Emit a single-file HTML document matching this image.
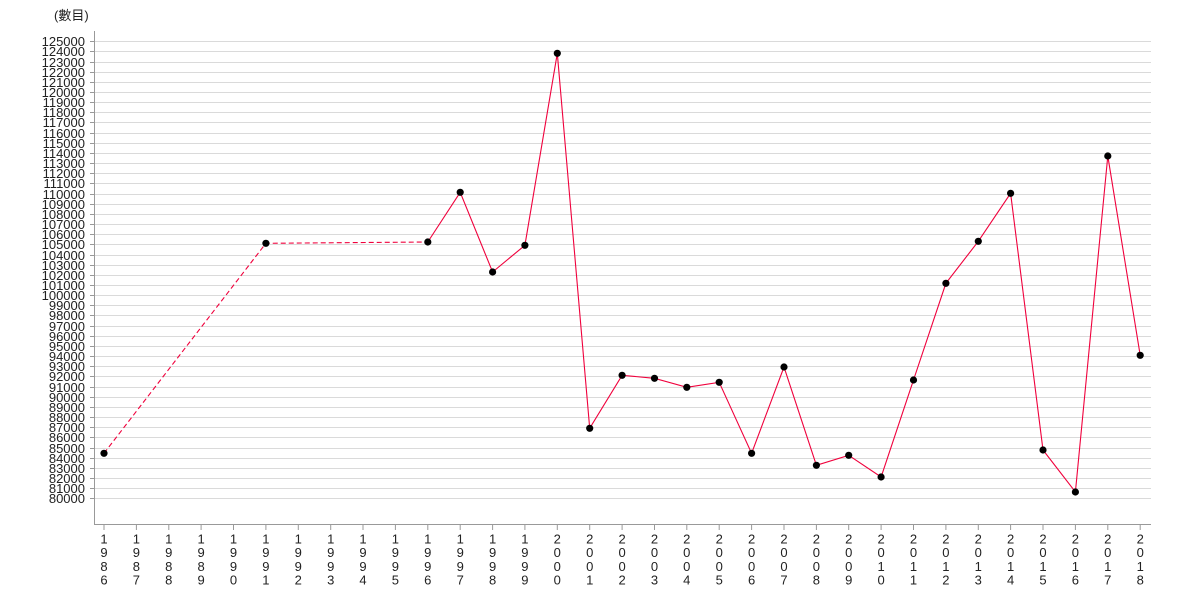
<!DOCTYPE html>
<html><head><meta charset="utf-8"><style>
html,body{margin:0;padding:0;background:#fff;}
svg{display:block;}
text{font-family:"Liberation Sans","Noto Sans CJK TC",sans-serif;font-size:13px;fill:#222;}
</style></head><body>
<svg width="1180" height="600" viewBox="0 0 1180 600" xmlns="http://www.w3.org/2000/svg">
<text x="54" y="20" style="font-size:13px">(數目)</text>
<g stroke="#dadada" stroke-width="1">
<line x1="95" x2="1151" y1="498.5" y2="498.5"/><line x1="95" x2="1151" y1="488.5" y2="488.5"/><line x1="95" x2="1151" y1="478.5" y2="478.5"/><line x1="95" x2="1151" y1="468.5" y2="468.5"/><line x1="95" x2="1151" y1="458.5" y2="458.5"/><line x1="95" x2="1151" y1="448.5" y2="448.5"/><line x1="95" x2="1151" y1="437.5" y2="437.5"/><line x1="95" x2="1151" y1="427.5" y2="427.5"/><line x1="95" x2="1151" y1="417.5" y2="417.5"/><line x1="95" x2="1151" y1="407.5" y2="407.5"/><line x1="95" x2="1151" y1="397.5" y2="397.5"/><line x1="95" x2="1151" y1="387.5" y2="387.5"/><line x1="95" x2="1151" y1="376.5" y2="376.5"/><line x1="95" x2="1151" y1="366.5" y2="366.5"/><line x1="95" x2="1151" y1="356.5" y2="356.5"/><line x1="95" x2="1151" y1="346.5" y2="346.5"/><line x1="95" x2="1151" y1="336.5" y2="336.5"/><line x1="95" x2="1151" y1="326.5" y2="326.5"/><line x1="95" x2="1151" y1="315.5" y2="315.5"/><line x1="95" x2="1151" y1="305.5" y2="305.5"/><line x1="95" x2="1151" y1="295.5" y2="295.5"/><line x1="95" x2="1151" y1="285.5" y2="285.5"/><line x1="95" x2="1151" y1="275.5" y2="275.5"/><line x1="95" x2="1151" y1="265.5" y2="265.5"/><line x1="95" x2="1151" y1="255.5" y2="255.5"/><line x1="95" x2="1151" y1="244.5" y2="244.5"/><line x1="95" x2="1151" y1="234.5" y2="234.5"/><line x1="95" x2="1151" y1="224.5" y2="224.5"/><line x1="95" x2="1151" y1="214.5" y2="214.5"/><line x1="95" x2="1151" y1="204.5" y2="204.5"/><line x1="95" x2="1151" y1="194.5" y2="194.5"/><line x1="95" x2="1151" y1="183.5" y2="183.5"/><line x1="95" x2="1151" y1="173.5" y2="173.5"/><line x1="95" x2="1151" y1="163.5" y2="163.5"/><line x1="95" x2="1151" y1="153.5" y2="153.5"/><line x1="95" x2="1151" y1="143.5" y2="143.5"/><line x1="95" x2="1151" y1="133.5" y2="133.5"/><line x1="95" x2="1151" y1="122.5" y2="122.5"/><line x1="95" x2="1151" y1="112.5" y2="112.5"/><line x1="95" x2="1151" y1="102.5" y2="102.5"/><line x1="95" x2="1151" y1="92.5" y2="92.5"/><line x1="95" x2="1151" y1="82.5" y2="82.5"/><line x1="95" x2="1151" y1="72.5" y2="72.5"/><line x1="95" x2="1151" y1="62.5" y2="62.5"/><line x1="95" x2="1151" y1="51.5" y2="51.5"/><line x1="95" x2="1151" y1="41.5" y2="41.5"/>
</g>
<g stroke="#999" stroke-width="1">
<line x1="94.5" y1="31" x2="94.5" y2="524.5"/>
<line x1="94" y1="524.5" x2="1151" y2="524.5"/>
<line x1="90" x2="94" y1="498.5" y2="498.5"/><line x1="90" x2="94" y1="488.5" y2="488.5"/><line x1="90" x2="94" y1="478.5" y2="478.5"/><line x1="90" x2="94" y1="468.5" y2="468.5"/><line x1="90" x2="94" y1="458.5" y2="458.5"/><line x1="90" x2="94" y1="448.5" y2="448.5"/><line x1="90" x2="94" y1="437.5" y2="437.5"/><line x1="90" x2="94" y1="427.5" y2="427.5"/><line x1="90" x2="94" y1="417.5" y2="417.5"/><line x1="90" x2="94" y1="407.5" y2="407.5"/><line x1="90" x2="94" y1="397.5" y2="397.5"/><line x1="90" x2="94" y1="387.5" y2="387.5"/><line x1="90" x2="94" y1="376.5" y2="376.5"/><line x1="90" x2="94" y1="366.5" y2="366.5"/><line x1="90" x2="94" y1="356.5" y2="356.5"/><line x1="90" x2="94" y1="346.5" y2="346.5"/><line x1="90" x2="94" y1="336.5" y2="336.5"/><line x1="90" x2="94" y1="326.5" y2="326.5"/><line x1="90" x2="94" y1="315.5" y2="315.5"/><line x1="90" x2="94" y1="305.5" y2="305.5"/><line x1="90" x2="94" y1="295.5" y2="295.5"/><line x1="90" x2="94" y1="285.5" y2="285.5"/><line x1="90" x2="94" y1="275.5" y2="275.5"/><line x1="90" x2="94" y1="265.5" y2="265.5"/><line x1="90" x2="94" y1="255.5" y2="255.5"/><line x1="90" x2="94" y1="244.5" y2="244.5"/><line x1="90" x2="94" y1="234.5" y2="234.5"/><line x1="90" x2="94" y1="224.5" y2="224.5"/><line x1="90" x2="94" y1="214.5" y2="214.5"/><line x1="90" x2="94" y1="204.5" y2="204.5"/><line x1="90" x2="94" y1="194.5" y2="194.5"/><line x1="90" x2="94" y1="183.5" y2="183.5"/><line x1="90" x2="94" y1="173.5" y2="173.5"/><line x1="90" x2="94" y1="163.5" y2="163.5"/><line x1="90" x2="94" y1="153.5" y2="153.5"/><line x1="90" x2="94" y1="143.5" y2="143.5"/><line x1="90" x2="94" y1="133.5" y2="133.5"/><line x1="90" x2="94" y1="122.5" y2="122.5"/><line x1="90" x2="94" y1="112.5" y2="112.5"/><line x1="90" x2="94" y1="102.5" y2="102.5"/><line x1="90" x2="94" y1="92.5" y2="92.5"/><line x1="90" x2="94" y1="82.5" y2="82.5"/><line x1="90" x2="94" y1="72.5" y2="72.5"/><line x1="90" x2="94" y1="62.5" y2="62.5"/><line x1="90" x2="94" y1="51.5" y2="51.5"/><line x1="90" x2="94" y1="41.5" y2="41.5"/>
<line x1="104" x2="104" y1="525" y2="530"/><line x1="136.4" x2="136.4" y1="525" y2="530"/><line x1="168.8" x2="168.8" y1="525" y2="530"/><line x1="201.1" x2="201.1" y1="525" y2="530"/><line x1="233.5" x2="233.5" y1="525" y2="530"/><line x1="265.9" x2="265.9" y1="525" y2="530"/><line x1="298.3" x2="298.3" y1="525" y2="530"/><line x1="330.7" x2="330.7" y1="525" y2="530"/><line x1="363" x2="363" y1="525" y2="530"/><line x1="395.4" x2="395.4" y1="525" y2="530"/><line x1="427.8" x2="427.8" y1="525" y2="530"/><line x1="460.2" x2="460.2" y1="525" y2="530"/><line x1="492.6" x2="492.6" y1="525" y2="530"/><line x1="524.9" x2="524.9" y1="525" y2="530"/><line x1="557.3" x2="557.3" y1="525" y2="530"/><line x1="589.7" x2="589.7" y1="525" y2="530"/><line x1="622.1" x2="622.1" y1="525" y2="530"/><line x1="654.5" x2="654.5" y1="525" y2="530"/><line x1="686.8" x2="686.8" y1="525" y2="530"/><line x1="719.2" x2="719.2" y1="525" y2="530"/><line x1="751.6" x2="751.6" y1="525" y2="530"/><line x1="784" x2="784" y1="525" y2="530"/><line x1="816.4" x2="816.4" y1="525" y2="530"/><line x1="848.7" x2="848.7" y1="525" y2="530"/><line x1="881.1" x2="881.1" y1="525" y2="530"/><line x1="913.5" x2="913.5" y1="525" y2="530"/><line x1="945.9" x2="945.9" y1="525" y2="530"/><line x1="978.3" x2="978.3" y1="525" y2="530"/><line x1="1010.6" x2="1010.6" y1="525" y2="530"/><line x1="1043" x2="1043" y1="525" y2="530"/><line x1="1075.4" x2="1075.4" y1="525" y2="530"/><line x1="1107.8" x2="1107.8" y1="525" y2="530"/><line x1="1140.2" x2="1140.2" y1="525" y2="530"/>
</g>
<g text-anchor="end">
<text x="85" y="503">80000</text><text x="85" y="493">81000</text><text x="85" y="483">82000</text><text x="85" y="473">83000</text><text x="85" y="463">84000</text><text x="85" y="453">85000</text><text x="85" y="442">86000</text><text x="85" y="432">87000</text><text x="85" y="422">88000</text><text x="85" y="412">89000</text><text x="85" y="402">90000</text><text x="85" y="392">91000</text><text x="85" y="381">92000</text><text x="85" y="371">93000</text><text x="85" y="361">94000</text><text x="85" y="351">95000</text><text x="85" y="341">96000</text><text x="85" y="331">97000</text><text x="85" y="320">98000</text><text x="85" y="310">99000</text><text x="85" y="300">100000</text><text x="85" y="290">101000</text><text x="85" y="280">102000</text><text x="85" y="270">103000</text><text x="85" y="260">104000</text><text x="85" y="249">105000</text><text x="85" y="239">106000</text><text x="85" y="229">107000</text><text x="85" y="219">108000</text><text x="85" y="209">109000</text><text x="85" y="199">110000</text><text x="85" y="188">111000</text><text x="85" y="178">112000</text><text x="85" y="168">113000</text><text x="85" y="158">114000</text><text x="85" y="148">115000</text><text x="85" y="138">116000</text><text x="85" y="127">117000</text><text x="85" y="117">118000</text><text x="85" y="107">119000</text><text x="85" y="97">120000</text><text x="85" y="87">121000</text><text x="85" y="77">122000</text><text x="85" y="67">123000</text><text x="85" y="56">124000</text><text x="85" y="46">125000</text>
</g>
<g text-anchor="middle">
<text x="104"><tspan x="104" y="543.5">1</tspan><tspan x="104" y="557.2">9</tspan><tspan x="104" y="570.9">8</tspan><tspan x="104" y="584.6">6</tspan></text>
<text><tspan x="136.4" y="543.5">1</tspan><tspan x="136.4" y="557.2">9</tspan><tspan x="136.4" y="570.9">8</tspan><tspan x="136.4" y="584.6">7</tspan></text>
<text><tspan x="168.8" y="543.5">1</tspan><tspan x="168.8" y="557.2">9</tspan><tspan x="168.8" y="570.9">8</tspan><tspan x="168.8" y="584.6">8</tspan></text>
<text><tspan x="201.1" y="543.5">1</tspan><tspan x="201.1" y="557.2">9</tspan><tspan x="201.1" y="570.9">8</tspan><tspan x="201.1" y="584.6">9</tspan></text>
<text><tspan x="233.5" y="543.5">1</tspan><tspan x="233.5" y="557.2">9</tspan><tspan x="233.5" y="570.9">9</tspan><tspan x="233.5" y="584.6">0</tspan></text>
<text><tspan x="265.9" y="543.5">1</tspan><tspan x="265.9" y="557.2">9</tspan><tspan x="265.9" y="570.9">9</tspan><tspan x="265.9" y="584.6">1</tspan></text>
<text><tspan x="298.3" y="543.5">1</tspan><tspan x="298.3" y="557.2">9</tspan><tspan x="298.3" y="570.9">9</tspan><tspan x="298.3" y="584.6">2</tspan></text>
<text><tspan x="330.7" y="543.5">1</tspan><tspan x="330.7" y="557.2">9</tspan><tspan x="330.7" y="570.9">9</tspan><tspan x="330.7" y="584.6">3</tspan></text>
<text><tspan x="363" y="543.5">1</tspan><tspan x="363" y="557.2">9</tspan><tspan x="363" y="570.9">9</tspan><tspan x="363" y="584.6">4</tspan></text>
<text><tspan x="395.4" y="543.5">1</tspan><tspan x="395.4" y="557.2">9</tspan><tspan x="395.4" y="570.9">9</tspan><tspan x="395.4" y="584.6">5</tspan></text>
<text><tspan x="427.8" y="543.5">1</tspan><tspan x="427.8" y="557.2">9</tspan><tspan x="427.8" y="570.9">9</tspan><tspan x="427.8" y="584.6">6</tspan></text>
<text><tspan x="460.2" y="543.5">1</tspan><tspan x="460.2" y="557.2">9</tspan><tspan x="460.2" y="570.9">9</tspan><tspan x="460.2" y="584.6">7</tspan></text>
<text><tspan x="492.6" y="543.5">1</tspan><tspan x="492.6" y="557.2">9</tspan><tspan x="492.6" y="570.9">9</tspan><tspan x="492.6" y="584.6">8</tspan></text>
<text><tspan x="524.9" y="543.5">1</tspan><tspan x="524.9" y="557.2">9</tspan><tspan x="524.9" y="570.9">9</tspan><tspan x="524.9" y="584.6">9</tspan></text>
<text><tspan x="557.3" y="543.5">2</tspan><tspan x="557.3" y="557.2">0</tspan><tspan x="557.3" y="570.9">0</tspan><tspan x="557.3" y="584.6">0</tspan></text>
<text><tspan x="589.7" y="543.5">2</tspan><tspan x="589.7" y="557.2">0</tspan><tspan x="589.7" y="570.9">0</tspan><tspan x="589.7" y="584.6">1</tspan></text>
<text><tspan x="622.1" y="543.5">2</tspan><tspan x="622.1" y="557.2">0</tspan><tspan x="622.1" y="570.9">0</tspan><tspan x="622.1" y="584.6">2</tspan></text>
<text><tspan x="654.5" y="543.5">2</tspan><tspan x="654.5" y="557.2">0</tspan><tspan x="654.5" y="570.9">0</tspan><tspan x="654.5" y="584.6">3</tspan></text>
<text><tspan x="686.8" y="543.5">2</tspan><tspan x="686.8" y="557.2">0</tspan><tspan x="686.8" y="570.9">0</tspan><tspan x="686.8" y="584.6">4</tspan></text>
<text><tspan x="719.2" y="543.5">2</tspan><tspan x="719.2" y="557.2">0</tspan><tspan x="719.2" y="570.9">0</tspan><tspan x="719.2" y="584.6">5</tspan></text>
<text><tspan x="751.6" y="543.5">2</tspan><tspan x="751.6" y="557.2">0</tspan><tspan x="751.6" y="570.9">0</tspan><tspan x="751.6" y="584.6">6</tspan></text>
<text><tspan x="784" y="543.5">2</tspan><tspan x="784" y="557.2">0</tspan><tspan x="784" y="570.9">0</tspan><tspan x="784" y="584.6">7</tspan></text>
<text><tspan x="816.4" y="543.5">2</tspan><tspan x="816.4" y="557.2">0</tspan><tspan x="816.4" y="570.9">0</tspan><tspan x="816.4" y="584.6">8</tspan></text>
<text><tspan x="848.7" y="543.5">2</tspan><tspan x="848.7" y="557.2">0</tspan><tspan x="848.7" y="570.9">0</tspan><tspan x="848.7" y="584.6">9</tspan></text>
<text><tspan x="881.1" y="543.5">2</tspan><tspan x="881.1" y="557.2">0</tspan><tspan x="881.1" y="570.9">1</tspan><tspan x="881.1" y="584.6">0</tspan></text>
<text><tspan x="913.5" y="543.5">2</tspan><tspan x="913.5" y="557.2">0</tspan><tspan x="913.5" y="570.9">1</tspan><tspan x="913.5" y="584.6">1</tspan></text>
<text><tspan x="945.9" y="543.5">2</tspan><tspan x="945.9" y="557.2">0</tspan><tspan x="945.9" y="570.9">1</tspan><tspan x="945.9" y="584.6">2</tspan></text>
<text><tspan x="978.3" y="543.5">2</tspan><tspan x="978.3" y="557.2">0</tspan><tspan x="978.3" y="570.9">1</tspan><tspan x="978.3" y="584.6">3</tspan></text>
<text><tspan x="1010.6" y="543.5">2</tspan><tspan x="1010.6" y="557.2">0</tspan><tspan x="1010.6" y="570.9">1</tspan><tspan x="1010.6" y="584.6">4</tspan></text>
<text><tspan x="1043" y="543.5">2</tspan><tspan x="1043" y="557.2">0</tspan><tspan x="1043" y="570.9">1</tspan><tspan x="1043" y="584.6">5</tspan></text>
<text><tspan x="1075.4" y="543.5">2</tspan><tspan x="1075.4" y="557.2">0</tspan><tspan x="1075.4" y="570.9">1</tspan><tspan x="1075.4" y="584.6">6</tspan></text>
<text><tspan x="1107.8" y="543.5">2</tspan><tspan x="1107.8" y="557.2">0</tspan><tspan x="1107.8" y="570.9">1</tspan><tspan x="1107.8" y="584.6">7</tspan></text>
<text><tspan x="1140.2" y="543.5">2</tspan><tspan x="1140.2" y="557.2">0</tspan><tspan x="1140.2" y="570.9">1</tspan><tspan x="1140.2" y="584.6">8</tspan></text>
</g>
<g fill="none" stroke="#f0003c" stroke-width="1.1">
<polyline stroke-dasharray="5,3" points="104,453.3 265.9,243.3 427.8,242"/>
<polyline points="427.8,242 460.2,192.3 492.6,272 524.9,245.3 557.3,53.3 589.7,428.3 622.1,375.3 654.5,378.3 686.8,387.3 719.2,382.3 751.6,453.3 784,367 816.4,465.3 848.7,455.3 881.1,477 913.5,380 945.9,283.3 978.3,241.3 1010.6,193.3 1043,450 1075.4,492 1107.8,156 1140.2,355.3"/>
</g>
<g fill="#000">
<circle cx="104" cy="453.3" r="3.6"/><circle cx="265.9" cy="243.3" r="3.6"/><circle cx="427.8" cy="242" r="3.6"/><circle cx="460.2" cy="192.3" r="3.6"/><circle cx="492.6" cy="272" r="3.6"/><circle cx="524.9" cy="245.3" r="3.6"/><circle cx="557.3" cy="53.3" r="3.6"/><circle cx="589.7" cy="428.3" r="3.6"/><circle cx="622.1" cy="375.3" r="3.6"/><circle cx="654.5" cy="378.3" r="3.6"/><circle cx="686.8" cy="387.3" r="3.6"/><circle cx="719.2" cy="382.3" r="3.6"/><circle cx="751.6" cy="453.3" r="3.6"/><circle cx="784" cy="367" r="3.6"/><circle cx="816.4" cy="465.3" r="3.6"/><circle cx="848.7" cy="455.3" r="3.6"/><circle cx="881.1" cy="477" r="3.6"/><circle cx="913.5" cy="380" r="3.6"/><circle cx="945.9" cy="283.3" r="3.6"/><circle cx="978.3" cy="241.3" r="3.6"/><circle cx="1010.6" cy="193.3" r="3.6"/><circle cx="1043" cy="450" r="3.6"/><circle cx="1075.4" cy="492" r="3.6"/><circle cx="1107.8" cy="156" r="3.6"/><circle cx="1140.2" cy="355.3" r="3.6"/>
</g>
</svg>
</body></html>
